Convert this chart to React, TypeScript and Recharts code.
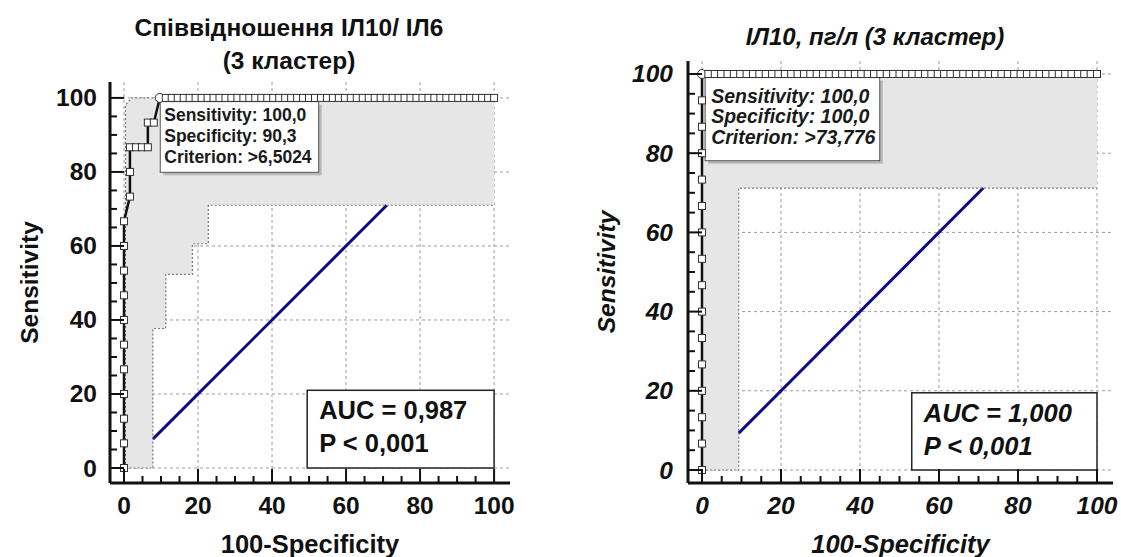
import React from 'react';
import { ComposedChart, Line, Area, XAxis, YAxis, CartesianGrid, ReferenceArea } from 'recharts';

const FONT = '"Liberation Sans", Arial, Helvetica, sans-serif';
const INK = '#111111';

// ---------- shared value arrays ----------
const axisTicks = [0, 5, 10, 15, 20, 25, 30, 35, 40, 45, 50, 55, 60, 65, 70, 75, 80, 85, 90, 95, 100];
const gridValues = [0, 20, 40, 60, 80, 100];

// 100-Specificity levels (steps of the negative group)
const fprLevels = [0, 1.61, 3.23, 4.84, 6.45, 8.06, 9.68, 11.29, 12.9, 14.52, 16.13, 17.74, 19.35, 20.97, 22.58,
  24.19, 25.81, 27.42, 29.03, 30.65, 32.26, 33.87, 35.48, 37.1, 38.71, 40.32, 41.94, 43.55, 45.16, 46.77, 48.39,
  50, 51.61, 53.23, 54.84, 56.45, 58.06, 59.68, 61.29, 62.9, 64.52, 66.13, 67.74, 69.35, 70.97, 72.58, 74.19,
  75.81, 77.42, 79.03, 80.65, 82.26, 83.87, 85.48, 87.1, 88.71, 90.32, 91.94, 93.55, 95.16, 96.77, 98.39, 100];
// Sensitivity levels (steps of the positive group)
const sensLevels = [0, 6.67, 13.33, 20, 26.67, 33.33, 40, 46.67, 53.33, 60, 66.67, 73.33, 80, 86.67, 93.33, 100];

// ---------- left chart: Співвідношення ІЛ10/ІЛ6 ----------
const leftStepFpr = [0, 0, 0, 0, 0, 0, 0, 0, 0, 0, 0, 1.61, 1.61, 1.61, 3.23, 4.84, 6.45, 6.45, 8.06];
const leftStepSens = [0, 6.67, 13.33, 20, 26.67, 33.33, 40, 46.67, 53.33, 60, 66.67, 73.33, 80, 86.67, 86.67, 86.67, 86.67, 93.33, 93.33];
const leftTopFpr = fprLevels.slice(6); // sensitivity 100 row, starting at the optimal point 9.68
const leftOptimal = { fpr: 9.68, sens: 100 };

const leftCiX = [0.4, 2.1, 7.8, 7.8, 11.3, 11.3, 18.5, 18.5, 22.8, 22.8, 100];
const leftCiLow = [0, 0, 0, 37.7, 37.7, 52.3, 52.3, 60.6, 60.6, 71, 71];
const leftCiHigh = [98.1, 100, 100, 100, 100, 100, 100, 100, 100, 100, 100];
const leftUpperX = [0.4, 0.4, 2.1, 100];
const leftUpperY = [0, 98.1, 100, 100];
const leftDiag = [7.8, 71];

const leftInfo = ['Sensitivity: 100,0', 'Specificity: 90,3', 'Criterion: >6,5024'];
const leftAuc = ['AUC = 0,987', 'P < 0,001'];

// ---------- right chart: ІЛ10, пг/л ----------
const rightTopFpr = fprLevels.slice(1);
const rightOptimal = { fpr: 0, sens: 100 };
const rightCiX = [0, 9.3, 9.3, 100];
const rightCiLow = [0, 0, 71.2, 71.2];
const rightCiHigh = [100, 100, 100, 100];
const rightDiag = [9.3, 71.2];

const rightInfo = ['Sensitivity: 100,0', 'Specificity: 100,0', 'Criterion: >73,776'];
const rightAuc = ['AUC = 1,000', 'P < 0,001'];

// ---------- build tables ----------
type Pt = { x: number; y: number; opt?: boolean };
const leftRoc: Pt[] = [
  ...leftStepFpr.map((x, i) => ({ x, y: leftStepSens[i] })),
  ...leftTopFpr.map((x) => ({ x, y: 100, opt: x === leftOptimal.fpr && leftOptimal.sens === 100 })),
];
const rightRoc: Pt[] = [
  ...sensLevels.map((s) => ({ x: 0, y: s, opt: s === rightOptimal.sens && rightOptimal.fpr === 0 })),
  ...rightTopFpr.map((x) => ({ x, y: 100 })),
];
const leftCi = leftCiX.map((x, i) => ({ x, ci: [leftCiLow[i], leftCiHigh[i]] }));
const rightCi = rightCiX.map((x, i) => ({ x, ci: [rightCiLow[i], rightCiHigh[i]] }));
const leftLowerLine = leftCiX.map((x, i) => ({ x, y: leftCiLow[i] }));
const leftUpperLine = leftUpperX.map((x, i) => ({ x, y: leftUpperY[i] }));
const rightLowerLine = rightCiX.map((x, i) => ({ x, y: rightCiLow[i] }));
const leftDiagLine = leftDiag.map((v) => ({ x: v, y: v }));
const rightDiagLine = rightDiag.map((v) => ({ x: v, y: v }));

// ---------- custom pieces ----------
const TICK_FONT = 24.5;
const makeXTick = (italic: boolean) => (props: any) => {
  const { x, y, payload } = props;
  const v = payload.value;
  const major = v % 20 === 0;
  return (
    <g>
      <line x1={x} y1={y} x2={x} y2={y - (major ? 14 : 7)} stroke={INK} strokeWidth={2} />
      {major && (
        <text x={x} y={y + 31} textAnchor="middle" fontFamily={FONT} fontWeight="bold"
          fontStyle={italic ? 'italic' : 'normal'} fontSize={TICK_FONT} fill={INK}>{v}</text>
      )}
    </g>
  );
};

const makeYTick = (italic: boolean) => (props: any) => {
  const { x, y, payload } = props;
  const v = payload.value;
  const major = v % 20 === 0;
  return (
    <g>
      <line x1={x} y1={y} x2={x + (major ? 14 : 7)} y2={y} stroke={INK} strokeWidth={2} />
      {major && (
        <text x={x - (italic ? 15 : 13)} y={y + 8.5} textAnchor="end" fontFamily={FONT} fontWeight="bold"
          fontStyle={italic ? 'italic' : 'normal'} fontSize={TICK_FONT} fill={INK}>{v}</text>
      )}
    </g>
  );
};

const rocDot = (props: any) => {
  const { cx, cy, payload, index } = props;
  if (cx == null || cy == null) return <g key={`d${index}`} />;
  if (payload.opt) {
    return <circle key={`d${index}`} cx={cx} cy={cy} r={4.5} fill="#fff" stroke="#333" strokeWidth={1} />;
  }
  return <rect key={`d${index}`} x={cx - 3.5} y={cy - 3.5} width={7} height={7} fill="#fff" stroke="#333" strokeWidth={1} />;
};

const InfoBox = (props: any) => {
  const { x, y, width, height, lines, italic, fontSize, dx, baselines } = props;
  return (
    <g>
      <rect x={x + 3} y={y + 3} width={width} height={height} fill="#b8b8b8" />
      <rect x={x} y={y} width={width} height={height} fill="#fff" stroke="#555" strokeWidth={1} />
      {lines.map((t: string, i: number) => (
        <text key={i} x={x + dx} y={y + baselines[i]} fontFamily={FONT} fontWeight="bold"
          fontStyle={italic ? 'italic' : 'normal'} fontSize={fontSize} fill="#1a1a1a">{t}</text>
      ))}
    </g>
  );
};

const AucBox = (props: any) => {
  const { x, y, width, height, lines, italic } = props;
  return (
    <g>
      <rect x={x} y={y} width={width} height={height} fill="#fff" stroke="#222" strokeWidth={1.5} />
      {lines.map((t: string, i: number) => (
        <text key={i} x={x + 12} y={y + (i === 0 ? 29 : 62)} fontFamily={FONT} fontWeight="bold"
          fontStyle={italic ? 'italic' : 'normal'} fontSize={25.5} fill={INK}>{t}</text>
      ))}
    </g>
  );
};

type PanelProps = {
  italic: boolean;
  width: number;
  margin: { top: number; right: number; bottom: number; left: number };
  xDomain: [number, number];
  yDomain: [number, number];
  roc: Pt[];
  ci: any[];
  ciLines: Pt[][];
  diag: Pt[];
  info: string[];
  infoRect: [number, number, number, number];
  infoFont: number;
  infoDx: number;
  infoBaselines: number[];
  auc: string[];
  aucRect: [number, number, number, number];
  yLabelDx: number;
};

const Panel = (p: PanelProps) => {
  const style = p.italic ? 'italic' : 'normal';
  return (
    <ComposedChart width={p.width} height={557} margin={p.margin}>
      <CartesianGrid horizontalValues={gridValues} verticalValues={gridValues} stroke="#9c9c9c"
        strokeDasharray="3 3" strokeWidth={1} />
      <XAxis type="number" dataKey="x" domain={p.xDomain} ticks={axisTicks} interval={0} allowDataOverflow
        height={30} tickSize={0} tickMargin={0} tickLine={false} tick={makeXTick(p.italic)}
        axisLine={{ stroke: INK, strokeWidth: 3 }}
        label={{
          content: (lp: any) => {
            const vb = lp.viewBox;
            return (
              <text x={vb.x + vb.width / 2} y={vb.y + 70} textAnchor="middle" fontFamily={FONT} fontWeight="bold"
                fontStyle={style} fontSize={25.5} fill={INK}>100-Specificity</text>
            );
          },
        }} />
      <YAxis type="number" domain={p.yDomain} ticks={axisTicks} interval={0} allowDataOverflow width={60}
        tickSize={0} tickMargin={0} tickLine={false} tick={makeYTick(p.italic)}
        axisLine={{ stroke: INK, strokeWidth: 3 }}
        label={{
          content: (lp: any) => {
            const vb = lp.viewBox;
            const cx = vb.x + p.yLabelDx;
            const cy = vb.y + vb.height / 2;
            return (
              <text x={cx} y={cy} transform={`rotate(-90 ${cx} ${cy})`} textAnchor="middle" fontFamily={FONT}
                fontWeight="bold" fontStyle={style} fontSize={24.5} fill={INK}>Sensitivity</text>
            );
          },
        }} />
      <Area data={p.ci} dataKey="ci" type="linear" fill="#e6e6e6" fillOpacity={1} stroke="none"
        isAnimationActive={false} activeDot={false} />
      <Line data={p.diag} dataKey="y" type="linear" stroke="#0b0b86" strokeWidth={3} dot={false}
        isAnimationActive={false} activeDot={false} />
      {p.ciLines.map((d, i) => (
        <Line key={i} data={d} dataKey="y" type="linear" stroke="#7a7a7a" strokeWidth={1.2}
          strokeDasharray="2 2" dot={false} isAnimationActive={false} activeDot={false} />
      ))}
      <ReferenceArea x1={p.infoRect[0]} x2={p.infoRect[1]} y1={p.infoRect[2]} y2={p.infoRect[3]}
        shape={(sp: any) => (
          <InfoBox {...sp} lines={p.info} italic={p.italic} fontSize={p.infoFont} dx={p.infoDx}
            baselines={p.infoBaselines} />
        )} />
      <ReferenceArea x1={p.aucRect[0]} x2={p.aucRect[1]} y1={p.aucRect[2]} y2={p.aucRect[3]}
        shape={(sp: any) => <AucBox {...sp} lines={p.auc} italic={p.italic} />} />
      <Line data={p.roc} dataKey="y" type="linear" stroke={INK} strokeWidth={2.5} dot={rocDot}
        isAnimationActive={false} activeDot={false} />
    </ComposedChart>
  );
};

export default function App() {
  return (
    <div style={{ position: 'absolute', left: 0, top: 0, width: 1121, height: 557, background: '#fff', overflow: 'hidden' }}>
      <div style={{ position: 'absolute', left: 0, top: 0 }}>
        <Panel italic={false} width={560}
          margin={{ top: 82, right: 50, bottom: 44, left: 50 }}
          xDomain={[-3.78, 104.3]} yDomain={[-4.05, 104.3]}
          roc={leftRoc} ci={leftCi} ciLines={[leftLowerLine, leftUpperLine]} diag={leftDiagLine}
          info={leftInfo} infoRect={[9.8, 52.6, 79.9, 99]} infoFont={17.5} infoDx={4} infoBaselines={[19.5, 40, 61.5]}
          auc={leftAuc} aucRect={[49.5, 100, 0, 21]} yLabelDx={-12} />
      </div>
      <div style={{ position: 'absolute', left: 560, top: 0 }}>
        <Panel italic={true} width={561}
          margin={{ top: 61, right: 8, bottom: 44, left: 68 }}
          xDomain={[-3.54, 104.05]} yDomain={[-3.28, 103.28]}
          roc={rightRoc} ci={rightCi} ciLines={[rightLowerLine]} diag={rightDiagLine}
          info={rightInfo} infoRect={[0.8, 45, 78.1, 99.1]} infoFont={19.5} infoDx={6} infoBaselines={[25, 45.5, 66.5]}
          auc={rightAuc} aucRect={[53.1, 100, 0, 19.5]} yLabelDx={-13} />
      </div>
      <div style={{ position: 'absolute', left: 39, top: 11, width: 500, textAlign: 'center', fontFamily: FONT,
        fontWeight: 'bold', fontSize: 24.5, lineHeight: '33px', color: INK }}>
        <div>Співвідношення ІЛ10/ ІЛ6</div>
        <div>(3 кластер)</div>
      </div>
      <div style={{ position: 'absolute', left: 675, top: 20, width: 400, textAlign: 'center', fontFamily: FONT,
        fontWeight: 'bold', fontStyle: 'italic', fontSize: 24, lineHeight: '33px', color: INK }}>
        ІЛ10, пг/л (3 кластер)
      </div>
    </div>
  );
}
